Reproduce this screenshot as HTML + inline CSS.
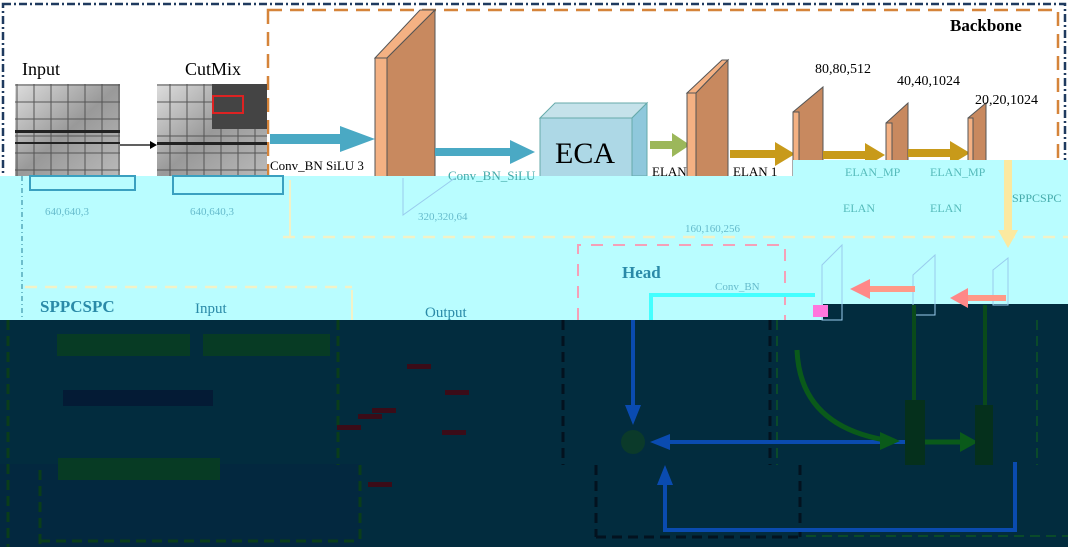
<!DOCTYPE html>
<html><head><meta charset="utf-8"><style>
body{margin:0;width:1068px;height:547px;overflow:hidden;background:#fff;font-family:"Liberation Serif",serif;position:relative}
.a{position:absolute}
</style></head><body>
<svg class="a" style="left:0;top:0" width="1068" height="547" xmlns="http://www.w3.org/2000/svg">
<defs>
<linearGradient id="g1" x1="0" x2="1" y1="0" y2="1"><stop offset="0" stop-color="#ddd"/><stop offset=".5" stop-color="#999"/><stop offset="1" stop-color="#bbb"/></linearGradient>
<pattern id="grid" width="17" height="17" patternUnits="userSpaceOnUse"><rect width="17" height="17" fill="none" stroke="#555" stroke-width="1"/></pattern>
</defs>
<rect x="3" y="4" width="1062" height="540" fill="none" stroke="#1f3a5f" stroke-width="2.5" stroke-dasharray="8,3,2,3"/>
<rect x="268" y="10" width="790" height="240" fill="none" stroke="#d5843a" stroke-width="2.5" stroke-dasharray="14,8"/>
<text x="22" y="75" font-size="18">Input</text>
<text x="185" y="75" font-size="18">CutMix</text>
<rect x="15" y="84" width="105" height="95" fill="url(#g1)"/><rect x="15" y="84" width="105" height="95" fill="url(#grid)"/>
<rect x="15" y="130" width="105" height="3" fill="#222"/><rect x="15" y="142" width="105" height="2" fill="#222"/>
<rect x="157" y="84" width="110" height="95" fill="url(#g1)"/><rect x="157" y="84" width="110" height="95" fill="url(#grid)"/>
<rect x="157" y="142" width="110" height="3" fill="#222"/>
<rect x="212" y="84" width="55" height="45" fill="#444"/>
<rect x="213" y="96" width="30" height="17" fill="none" stroke="#d22" stroke-width="2"/>
<line x1="120" y1="145" x2="150" y2="145" stroke="#000" stroke-width="1.2"/><polygon points="150,141 157,145 150,149"/>
<polygon points="375,58 420,10 435,10 387,58" fill="#f4b183" stroke="#555"/>
<rect x="375" y="58" width="12" height="120" fill="#f4b183" stroke="#555"/>
<polygon points="387,58 435,10 435,178 387,178" fill="#c8895f" stroke="#555"/>
<rect x="270" y="134" width="75" height="10" fill="#4aa9c4"/><polygon points="340,126 375,139 340,152" fill="#4aa9c4"/>
<text x="270" y="170" font-size="13">Conv_BN SiLU 3</text>
<rect x="435" y="148" width="80" height="8" fill="#4aa9c4"/><polygon points="510,140 535,152 510,164" fill="#4aa9c4"/>
<polygon points="540,118 555,103 647,103 632,118" fill="#c5e2ea" stroke="#6aa"/>
<polygon points="632,118 647,103 647,176 632,176" fill="#8fc8dc" stroke="#6aa"/>
<rect x="540" y="118" width="92" height="60" fill="#add8e6" stroke="#6aa"/>
<text x="555" y="163" font-size="30">ECA</text>
<rect x="650" y="141" width="25" height="8" fill="#9cb75a"/><polygon points="672,133 690,145 672,157" fill="#9cb75a"/>
<text x="652" y="176" font-size="13">ELAN</text><text x="733" y="176" font-size="13">ELAN 1</text>
<polygon points="687,93 722,60 728,60 696,93" fill="#f4b183" stroke="#555"/>
<rect x="687" y="93" width="9" height="85" fill="#f4b183" stroke="#555"/>
<polygon points="696,93 728,60 728,178 696,178" fill="#c8895f" stroke="#555"/>
<rect x="730" y="150" width="50" height="8" fill="#c89a1a"/><polygon points="775,142 795,154 775,166" fill="#c89a1a"/>
<polygon points="793,112 823,87 823,178 799,178" fill="#c8895f" stroke="#555"/><rect x="793" y="112" width="6" height="66" fill="#f4b183" stroke="#555"/>
<rect x="823" y="151" width="45" height="8" fill="#c89a1a"/><polygon points="865,143 885,155 865,167" fill="#c89a1a"/>
<polygon points="886,123 908,103 908,175 892,175" fill="#c8895f" stroke="#555"/><rect x="886" y="123" width="6" height="52" fill="#f4b183" stroke="#555"/>
<rect x="908" y="149" width="45" height="8" fill="#c89a1a"/><polygon points="950,141 970,153 950,165" fill="#c89a1a"/>
<polygon points="968,118 986,103 986,165 973,165" fill="#c8895f" stroke="#555"/><rect x="968" y="118" width="5" height="47" fill="#f4b183" stroke="#555"/>
<text x="815" y="73" font-size="14">80,80,512</text>
<text x="897" y="85" font-size="14">40,40,1024</text>
<text x="975" y="104" font-size="14">20,20,1024</text>
<text x="950" y="31" font-size="17" font-weight="bold">Backbone</text>
<polygon points="0,176 793,176 793,160 1068,160 1068,304 823,304 823,320 0,320" fill="#b9fdff"/>
<rect x="0" y="320" width="1068" height="227" fill="#022c3e"/>
<rect x="823" y="304" width="245" height="16" fill="#022c3e"/>
<rect x="0" y="464" width="360" height="83" fill="#03283f"/>
<rect x="30" y="176" width="105" height="14" fill="none" stroke="#3aa0c0" stroke-width="2"/>
<rect x="173" y="176" width="110" height="18" fill="none" stroke="#3aa0c0" stroke-width="2"/>
<text x="45" y="215" font-size="11" fill="#6bc">640,640,3</text>
<text x="190" y="215" font-size="11" fill="#6bc">640,640,3</text>
<text x="418" y="220" font-size="11" fill="#6bc">320,320,64</text>
<text x="685" y="232" font-size="11" fill="#6bc">160,160,256</text>
<text x="448" y="180" font-size="13" fill="#4aa">Conv_BN_SiLU</text>
<polyline points="403,178 403,215 455,178" fill="none" stroke="#9ce" />
<line x1="283" y1="237" x2="1068" y2="237" stroke="#f2f2c8" stroke-width="2.5" stroke-dasharray="12,8"/>
<line x1="290" y1="180" x2="290" y2="237" stroke="#f2f2c8" stroke-width="2"/>
<line x1="22" y1="176" x2="22" y2="320" stroke="#5ab" stroke-width="1.5" stroke-dasharray="5,3,1,3"/>
<line x1="25" y1="287" x2="352" y2="287" stroke="#f2f2c8" stroke-width="2.5" stroke-dasharray="12,8"/>
<line x1="352" y1="290" x2="352" y2="320" stroke="#f2f2c8" stroke-width="2"/>
<text x="40" y="312" font-size="17" font-weight="bold" fill="#2a8aa8">SPPCSPC</text>
<text x="195" y="313" font-size="15" fill="#2a8aa8">Input</text>
<text x="425" y="317" font-size="15" fill="#2a8aa8">Output</text>
<polyline points="578,320 578,245 785,245 785,320" fill="none" stroke="#f5a0b8" stroke-width="2" stroke-dasharray="12,10"/>
<text x="622" y="278" font-size="17" font-weight="bold" fill="#2a8aa8">Head</text>
<text x="715" y="290" font-size="11" fill="#6bc">Conv_BN</text>
<polyline points="651,320 651,295 815,295" fill="none" stroke="#4ff" stroke-width="4"/>
<line x1="1008" y1="160" x2="1008" y2="235" stroke="#fbe9a0" stroke-width="8"/><polygon points="998,230 1018,230 1008,248" fill="#fbe9a0"/>
<text x="1012" y="202" font-size="12" fill="#4aa">SPPCSPC</text>
<text x="843" y="212" font-size="12" fill="#5bb">ELAN</text><text x="930" y="212" font-size="12" fill="#5bb">ELAN</text>
<text x="845" y="176" font-size="12" fill="#5bb">ELAN_MP</text><text x="930" y="176" font-size="12" fill="#5bb">ELAN_MP</text>
<polygon points="822,265 842,245 842,320 822,320" fill="none" stroke="#9ce"/>
<polygon points="913,275 935,255 935,315 913,315" fill="none" stroke="#9ce"/>
<polygon points="993,270 1008,258 1008,305 993,305" fill="none" stroke="#9ce"/>
<rect x="870" y="286" width="45" height="6" fill="#f98"/><polygon points="870,279 850,289 870,299" fill="#f88"/>
<rect x="968" y="295" width="38" height="6" fill="#f98"/><polygon points="968,288 950,298 968,308" fill="#f88"/>
<rect x="813" y="305" width="15" height="12" fill="#f7d"/>
<line x1="8" y1="320" x2="8" y2="547" stroke="#0a3d1a" stroke-width="3" stroke-dasharray="10,6"/>
<line x1="338" y1="320" x2="338" y2="465" stroke="#0a3d1a" stroke-width="3" stroke-dasharray="10,6"/>
<line x1="40" y1="470" x2="40" y2="545" stroke="#0a3d1a" stroke-width="3" stroke-dasharray="10,6"/>
<line x1="360" y1="465" x2="360" y2="545" stroke="#0a3d1a" stroke-width="3" stroke-dasharray="10,6"/>
<line x1="40" y1="541" x2="360" y2="541" stroke="#0a3d1a" stroke-width="3" stroke-dasharray="10,6"/>
<rect x="57" y="334" width="133" height="22" fill="#073b24"/>
<rect x="203" y="334" width="127" height="22" fill="#073b24"/>
<rect x="63" y="390" width="150" height="16" fill="#041b35"/>
<rect x="58" y="458" width="162" height="22" fill="#073b24"/>
<g fill="#3a0c18"><rect x="337" y="425" width="24" height="5"/><rect x="358" y="414" width="24" height="5"/><rect x="372" y="408" width="24" height="5"/><rect x="407" y="364" width="24" height="5"/><rect x="445" y="390" width="24" height="5"/><rect x="442" y="430" width="24" height="5"/><rect x="368" y="482" width="24" height="5"/></g>
<line x1="563" y1="320" x2="563" y2="465" stroke="#03121f" stroke-width="3" stroke-dasharray="10,6"/>
<line x1="770" y1="320" x2="770" y2="465" stroke="#03121f" stroke-width="3" stroke-dasharray="10,6"/>
<line x1="596" y1="465" x2="596" y2="537" stroke="#03121f" stroke-width="3" stroke-dasharray="10,6"/>
<line x1="800" y1="465" x2="800" y2="537" stroke="#03121f" stroke-width="3" stroke-dasharray="10,6"/>
<line x1="596" y1="537" x2="800" y2="537" stroke="#03121f" stroke-width="3" stroke-dasharray="10,6"/>
<line x1="777" y1="320" x2="777" y2="465" stroke="#0a4a2a" stroke-width="2" stroke-dasharray="10,6"/>
<line x1="1037" y1="320" x2="1037" y2="465" stroke="#0a4a2a" stroke-width="2" stroke-dasharray="10,6"/>
<line x1="806" y1="536" x2="1068" y2="536" stroke="#0a4a2a" stroke-width="2" stroke-dasharray="10,6"/>
<g stroke="#0a4bb0" stroke-width="4" fill="none">
<line x1="633" y1="320" x2="633" y2="410"/>
<line x1="665" y1="442" x2="905" y2="442"/>
<polyline points="665,480 665,530 1015,530 1015,462"/>
</g>
<g fill="#0a4bb0"><polygon points="625,405 641,405 633,425"/><polygon points="670,434 650,442 670,450"/><polygon points="657,485 673,485 665,465"/></g>
<circle cx="633" cy="442" r="12" fill="#0b3a2a"/>
<path d="M797,350 Q800,425 885,440" fill="none" stroke="#0a5a1a" stroke-width="5"/>
<polygon points="880,432 900,441 880,450" fill="#0a5a1a"/>
<line x1="915" y1="442" x2="965" y2="442" stroke="#0a5a1a" stroke-width="5"/><polygon points="960,432 978,442 960,452" fill="#0a5a1a"/>
<line x1="914" y1="305" x2="914" y2="465" stroke="#0a4a1a" stroke-width="4"/>
<line x1="985" y1="305" x2="985" y2="465" stroke="#0a4a1a" stroke-width="4"/>
<rect x="905" y="400" width="20" height="65" fill="#05301c"/>
<rect x="975" y="405" width="18" height="60" fill="#05301c"/>
</svg>
</body></html>
